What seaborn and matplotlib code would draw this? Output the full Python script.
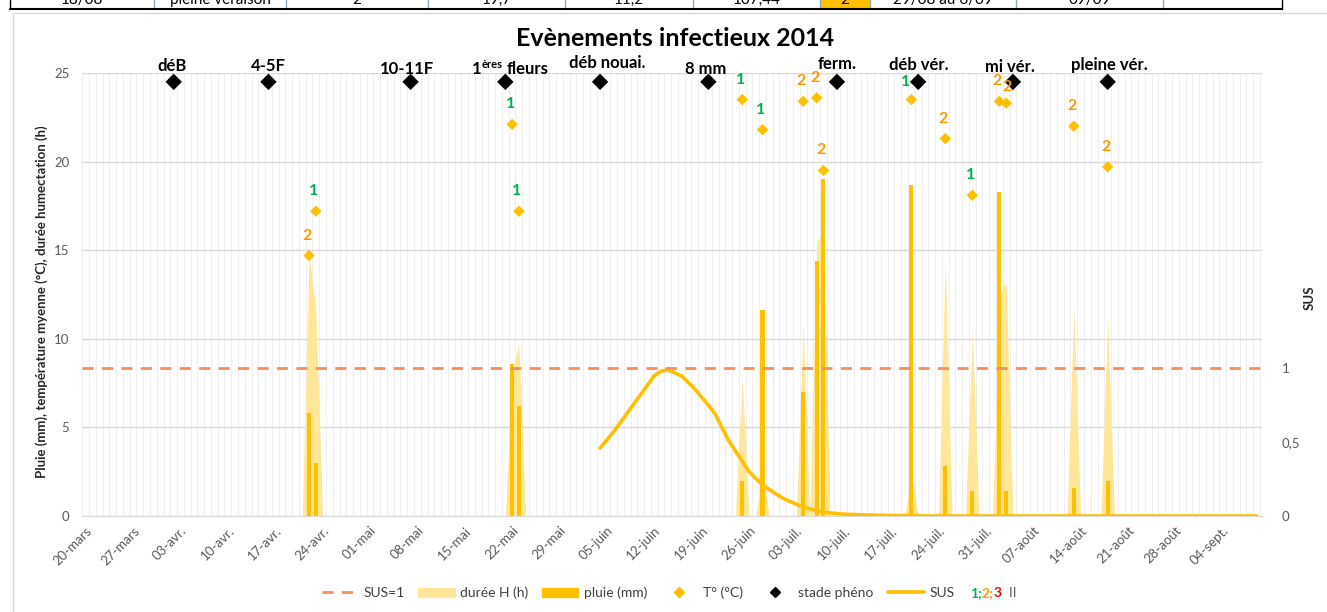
import matplotlib
matplotlib.use('Agg')
import matplotlib.pyplot as plt
from matplotlib.lines import Line2D
from matplotlib.patches import Patch, Rectangle
import numpy as np
import pandas as pd
import seaborn as sns

sns.set_style('white')
plt.rcParams['font.family'] = ['Lato', 'DejaVu Sans']

start = pd.Timestamp('2014-03-20')
end = pd.Timestamp('2014-09-09')

# stades phéno
stade_dates = ['2014-04-02', '2014-04-16', '2014-05-07', '2014-05-21', '2014-06-04',
               '2014-06-20', '2014-07-09', '2014-07-21', '2014-08-04', '2014-08-18']
stade_noms = ['déB', '4-5F', '10-11F', '1ères fleurs', 'déb nouai.', '8 mm',
              'ferm.', 'déb vér.', 'mi vér.', 'pleine vér.']
stade_val = 24.5

# jours d'humectation : pluie (mm), durée H (h), T° moyenne, classe de risque
evt_dates = ['2014-04-22', '2014-04-23', '2014-05-22', '2014-05-23', '2014-06-25',
             '2014-06-28', '2014-07-04', '2014-07-06', '2014-07-07', '2014-07-20',
             '2014-07-25', '2014-07-29', '2014-08-02', '2014-08-03', '2014-08-13',
             '2014-08-18']
pluie = [5.8, 3.0, 8.6, 6.2, 2.0, 11.6, 7.0, 14.4, 19.0, 18.7, 2.8, 1.4, 18.3, 1.4, 1.6, 2.0]
duree_h = [14.8, 11.6, 8.0, 9.8, 7.8, 2.5, 10.7, 15.5, 16.0, 2.5, 14.4, 10.4, 12.5, 13.2, 11.8, 11.2]
temp = [14.7, 17.2, 22.1, 17.2, 23.5, 21.8, 23.4, 23.6, 19.5, 23.5, 21.3, 18.1, 23.4, 23.3, 22.0, 19.7]
classe = [2, 1, 1, 1, 1, 1, 2, 2, 2, 1, 2, 1, 2, 2, 2, 2]

# courbe SUS (axe secondaire)
sus_dates = ['2014-06-04', '2014-06-06', '2014-06-09', '2014-06-12', '2014-06-13', '2014-06-14',
             '2014-06-16', '2014-06-18', '2014-06-20', '2014-06-21', '2014-06-23', '2014-06-25',
             '2014-06-26', '2014-06-28', '2014-07-01', '2014-07-04', '2014-07-07', '2014-07-10',
             '2014-07-15', '2014-07-23', '2014-09-09']
sus = [0.46, 0.57, 0.76, 0.95, 0.98, 0.99, 0.95, 0.86, 0.75, 0.69, 0.51, 0.37,
       0.30, 0.21, 0.12, 0.06, 0.025, 0.012, 0.005, 0.0, 0.0]
sus_seuil = 1

tick_labels = ['20-mars', '27-mars', '03-avr.', '10-avr.', '17-avr.', '24-avr.', '01-mai',
               '08-mai', '15-mai', '22-mai', '29-mai', '05-juin', '12-juin', '19-juin',
               '26-juin', '03-juil.', '10-juil.', '17-juil.', '24-juil.', '31-juil.',
               '07-août', '14-août', '21-août', '28-août', '04-sept.']

# ligne du tableau au-dessus du graphique (coupée)
table_cells = ['18/08', 'pleine véraison', '2', '19,7', '11,2', '107,44', '2',
               '29/08 au 6/09', '09/09', '']

col_class = {1: '#00B050', 2: '#FF9900', 3: '#FF0000'}
jaune = '#FFC000'
jaune_clair = '#FFE699'
gris = '#595959'


def jour(dates):
    return ((pd.to_datetime(pd.Series(dates)) - start).dt.days).to_numpy()


df = pd.DataFrame({'jour': jour(evt_dates), 'pluie': pluie, 'duree': duree_h,
                   'temp': temp, 'classe': classe})
ph = pd.DataFrame({'jour': jour(stade_dates), 'nom': stade_noms, 'val': stade_val})
ds = pd.DataFrame({'jour': jour(sus_dates), 'sus': sus})
n_jours = (end - start).days
hum = df.set_index('jour')['duree'].reindex(range(0, n_jours + 1), fill_value=0)

W, H = 1327, 612
fig = plt.figure(figsize=(W / 100, H / 100), dpi=100)
ax = fig.add_axes([82 / W, 1 - 516 / H, (1262 - 82) / W, (516 - 73) / H])

# durée H (aire)
ax.fill_between(hum.index, 0, hum.values, color=jaune_clair, lw=0, zorder=1)
# pluie
sns.barplot(data=df, x='jour', y='pluie', native_scale=True, width=0.6, color=jaune,
            saturation=1, errorbar=None, linewidth=0, ax=ax, zorder=2)
# T°
sns.scatterplot(data=df, x='jour', y='temp', marker='D', s=34, color=jaune,
                edgecolor='none', ax=ax, zorder=4, legend=False)
for i in range(len(df)):
    j, t, c = df['jour'][i], df['temp'][i], int(df['classe'][i])
    dx, dy = -2, 13
    if i == 9:
        dx, dy = -6, 11
    if i == 13:
        dx, dy = 1, 9
    ax.annotate(str(c), (j, t), xytext=(dx, dy),
                textcoords='offset pixels', ha='center', va='bottom',
                color=col_class[c], fontsize=11.5, fontweight='bold', zorder=5)

# stades phéno
sns.scatterplot(data=ph, x='jour', y='val', marker='D', s=70, color='black',
                edgecolor='none', ax=ax, zorder=4, legend=False, clip_on=False)
lab_off = [(-2, 16), (0, 16), (-4, 13), (0, 13), (7, 19), (-3, 13),
           (0, 18), (1, 17), (-3, 15), (2, 17)]
for (i, r), (dx, dy) in zip(ph.iterrows(), lab_off):
    kw = dict(textcoords='offset pixels', va='center', fontweight='bold',
              color='black', annotation_clip=False)
    if r['nom'].startswith('1ères'):
        ax.annotate('1', (r['jour'], r['val']), xytext=(-29, dy), ha='center', fontsize=12, **kw)
        ax.annotate('ères', (r['jour'], r['val']), xytext=(-13, dy + 4), ha='center', fontsize=8, **kw)
        ax.annotate('fleurs', (r['jour'], r['val']), xytext=(22, dy), ha='center', fontsize=12, **kw)
    else:
        ax.annotate(r['nom'], (r['jour'], r['val']), xytext=(dx, dy), ha='center',
                    fontsize=12, **kw)

ax.set_xlim(-0.55, n_jours + 0.8)
ax.set_ylim(0, 25)
ax.set_yticks([0, 5, 10, 15, 20, 25])
ax.set_xticks(np.arange(0, 169, 7))
ax.set_xticklabels(tick_labels, rotation=45, ha='right', rotation_mode='anchor')
ax.set_xticks(np.arange(-0.5, n_jours + 1, 1), minor=True)
ax.tick_params(axis='both', which='both', length=0, colors=gris, labelsize=9.5)
ax.tick_params(axis='y', pad=9)
ax.tick_params(axis='x', pad=6)
ax.grid(False)
ax.yaxis.grid(True, color='#D9D9D9', lw=1)
ax.xaxis.grid(True, which='minor', color='#EFEFEF', lw=0.8)
ax.set_axisbelow(True)
ax.set_xlabel('')
ax.set_ylabel('')
for s in ['left', 'right', 'top']:
    ax.spines[s].set_visible(False)
ax.spines['bottom'].set_color('#D9D9D9')

# axe SUS
ax2 = ax.twinx()
ax2.axhline(sus_seuil, color='#F4915A', lw=2, dashes=(4, 3), zorder=3)
sns.lineplot(data=ds, x='jour', y='sus', color=jaune, lw=2.6, ax=ax2,
             solid_capstyle='round', solid_joinstyle='round')
ax2.set_ylim(0, 3)
ax2.set_yticks([0, 0.5, 1])
ax2.set_yticklabels(['0', '0,5', '1'])
ax2.tick_params(axis='y', length=0, colors=gris, labelsize=9.5, pad=14)
ax2.set_ylabel('')
ax2.set_xlabel('')
for s in ax2.spines.values():
    s.set_visible(False)
ax2.grid(False)

fig.text(675 / W, 1 - 38 / H, 'Evènements infectieux 2014', ha='center', va='center',
         fontsize=18, fontweight='bold', color='black')
fig.text(42 / W, 1 - 302 / H, 'Pluie (mm), température myenne (°C), durée humectation (h)',
         rotation=90, ha='center', va='center', fontsize=9.5, fontweight='bold')
fig.text(1310 / W, 1 - 298 / H, 'SUS', rotation=90, ha='center', va='center',
         fontsize=9.5, fontweight='bold')

# légende
handles = [Line2D([], [], color='#F4915A', lw=2, dashes=(4, 3)),
           Patch(color=jaune_clair),
           Patch(color=jaune),
           Line2D([], [], marker='D', ls='none', color=jaune, ms=5),
           Line2D([], [], marker='D', ls='none', color='black', ms=5),
           Line2D([], [], color=jaune, lw=2.6)]
labels = ['SUS=1', 'durée H (h)', 'pluie (mm)', 'T° (°C)', 'stade phéno', 'SUS']
leg = fig.legend(handles, labels, loc='center', bbox_to_anchor=(638 / W, 1 - 593 / H),
                 ncol=6, frameon=False, fontsize=10, handlelength=2.6, handletextpad=0.4,
                 columnspacing=1.0, labelcolor='#404040')
fig.canvas.draw()
bb = leg.get_window_extent()
xpix = bb.x1 + 10
r = fig.canvas.get_renderer()
for txt, col in [('1;', col_class[1]), ('2;', col_class[2]), ('3', col_class[3]), ('  II', gris)]:
    t = fig.text(xpix / W, 1 - 593 / H, txt, ha='left', va='center', fontsize=10,
                 fontweight='bold' if col != gris else 'normal', color=col)
    xpix += t.get_window_extent(r).width

# cadre du graphique + bout du tableau
fig.add_artist(Rectangle((13, -2), W, H - 13 + 2, transform=None, fill=False,
                         ec='#D9D9D9', lw=1))
fig.add_artist(Rectangle((820, H - 8), 50, 8, transform=None, fc=jaune, ec='none'))
seps = [10, 154, 286, 428, 565, 693, 820, 870, 1016, 1163, 1282]
for k, xs in enumerate(seps):
    c = 'black' if k in (0, len(seps) - 1) else '#8EA9C1'
    fig.add_artist(Line2D([xs, xs], [H - 9, H], transform=None, color=c, lw=1))
fig.add_artist(Line2D([10, 1282], [H - 9, H - 9], transform=None, color='black', lw=1.5))
for a, b, txt in zip(seps[:-1], seps[1:], table_cells):
    fig.text((a + b) / 2 / W, 1 - 4 / H, txt, ha='center', va='baseline',
             fontsize=11, color='black')

fig.savefig('out.png', dpi=100)
